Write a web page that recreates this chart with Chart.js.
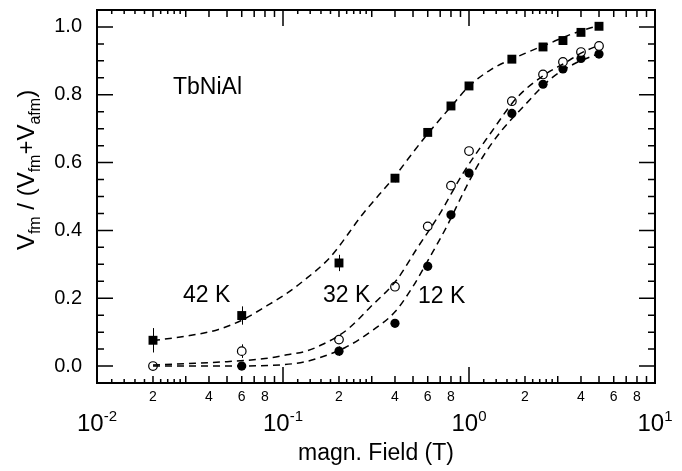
<!DOCTYPE html>
<html>
<head>
<meta charset="utf-8">
<script src="https://cdn.jsdelivr.net/npm/chart.js@4"></script>
<style>
  html, body { margin: 0; padding: 0; background: #fff; }
</style>
</head>
<body>
<canvas id="chart" width="682" height="471"></canvas>
<script>
// measured points (field in T, fm fraction)
const fields = [0.02, 0.06, 0.2, 0.4, 0.6, 0.8, 1.0, 1.7, 2.5, 3.2, 4, 5];
const frac42K = [0.076, 0.149, 0.304, 0.554, 0.689, 0.767, 0.826, 0.905, 0.941, 0.960, 0.984, 1.002];
const err42K = [0.036, 0.027, 0.024, 0.012, 0.006, 0.006, 0.006, 0.005, 0.004, 0.004, 0.004, 0.004];
const frac32K = [0.0, 0.044, 0.078, 0.234, 0.412, 0.532, 0.634, 0.781, 0.860, 0.897, 0.926, 0.944];
const err32K = [0.0, 0.02, 0.012, 0.01, 0.006, 0.005, 0.005, 0.004, 0.004, 0.004, 0.004, 0.004];
const fields12K = [0.06, 0.2, 0.4, 0.6, 0.8, 1.0, 1.7, 2.5, 3.2, 4, 5];
const frac12K = [0.0, 0.044, 0.126, 0.294, 0.446, 0.569, 0.745, 0.831, 0.876, 0.907, 0.920];
const err12K = [0.0, 0.014, 0.006, 0.005, 0.005, 0.004, 0.004, 0.004, 0.004, 0.004, 0.004];

// dashed fit curves
const fitX42K = [0.02, 0.03, 0.045, 0.06, 0.082, 0.1, 0.128, 0.18, 0.27, 0.4, 0.5, 0.6, 0.8, 1.0, 1.3, 2.0, 2.8, 3.6, 5];
const fitY42K = [0.075, 0.088, 0.108, 0.135, 0.178, 0.207, 0.25, 0.322, 0.45, 0.56, 0.63, 0.685, 0.765, 0.825, 0.873, 0.922, 0.955, 0.98, 1.005];
const fitX32K = [0.02, 0.03, 0.05, 0.08, 0.105, 0.135, 0.165, 0.2, 0.23, 0.29, 0.41, 0.52, 0.7, 0.93, 1.3, 1.8, 2.5, 3.3, 4.1, 5];
const fitY32K = [0.003, 0.007, 0.013, 0.022, 0.033, 0.045, 0.065, 0.09, 0.115, 0.17, 0.255, 0.343, 0.451, 0.569, 0.685, 0.79, 0.856, 0.895, 0.926, 0.946];
const fitX12K = [0.02, 0.05, 0.1, 0.13, 0.158, 0.215, 0.29, 0.4, 0.5, 0.62, 0.76, 0.97, 1.19, 1.5, 1.96, 2.72, 3.64, 5];
const fitY12K = [0.0, 0.0, 0.004, 0.012, 0.025, 0.054, 0.098, 0.16, 0.235, 0.324, 0.412, 0.53, 0.618, 0.695, 0.765, 0.845, 0.89, 0.922];

// axis ticks
const xDecades = [0.01, 0.1, 1, 10];
const xDecadeExp = ['-2', '-1', '0', '1'];
const xMinorSteps = [2, 3, 4, 5, 6, 7, 8, 9];
const xFineSteps = [1.2, 1.4, 1.6, 1.8, 2.2, 2.4, 2.6, 2.8];
const xMinorLabels = [2, 4, 6, 8];
const yMajor = [0, 0.2, 0.4, 0.6, 0.8, 1.0];
const yMajorLabels = ['0.0', '0.2', '0.4', '0.6', '0.8', '1.0'];
const yMinor = [0.05, 0.1, 0.15, 0.25, 0.3, 0.35, 0.45, 0.5, 0.55, 0.65, 0.7, 0.75, 0.85, 0.9, 0.95];

const FONT = '"Liberation Sans", Arial, Helvetica, sans-serif';

function toPts(xs, ys) {
    return xs.map((x, i) => ({ x: x, y: ys[i] }));
}

// text made of pieces: 0 normal, 1 subscript, 2 superscript
function richWidth(ctx, parts, size, small) {
    let w = 0;
    parts.forEach(p => {
        ctx.font = (p[1] ? small : size) + 'px ' + FONT;
        w += ctx.measureText(p[0]).width;
    });
    return w;
}

function drawRich(ctx, parts, x, y, size, small, shift) {
    let cx = x;
    parts.forEach(p => {
        ctx.font = (p[1] ? small : size) + 'px ' + FONT;
        let dy = 0;
        if (p[1] === 1) dy = shift;
        if (p[1] === 2) dy = -shift;
        ctx.fillText(p[0], cx, y + dy);
        cx += ctx.measureText(p[0]).width;
    });
}

const errorBars = {
    id: 'errorBars',
    beforeDatasetsDraw(chart) {
        const ctx = chart.ctx;
        const xs = chart.scales.x, ys = chart.scales.y;
        const sets = [[fields, frac42K, err42K], [fields, frac32K, err32K], [fields12K, frac12K, err12K]];
        ctx.save();
        ctx.strokeStyle = '#000';
        ctx.lineWidth = 1;
        sets.forEach(s => {
            s[0].forEach((fx, i) => {
                if (!s[2][i]) return;
                const px = Math.round(xs.getPixelForValue(fx)) + 0.5;
                ctx.beginPath();
                ctx.moveTo(px, ys.getPixelForValue(s[1][i] - s[2][i]));
                ctx.lineTo(px, ys.getPixelForValue(s[1][i] + s[2][i]));
                ctx.stroke();
            });
        });
        ctx.restore();
    }
};

const frameAndText = {
    id: 'frameAndText',
    afterDraw(chart) {
        const ctx = chart.ctx;
        const a = chart.chartArea;
        const xs = chart.scales.x, ys = chart.scales.y;
        ctx.save();
        ctx.strokeStyle = '#000';
        ctx.fillStyle = '#000';

        // ticks, pointing inward on all four sides
        ctx.lineWidth = 1.5;
        function xTick(v, len) {
            const px = xs.getPixelForValue(v);
            ctx.beginPath();
            ctx.moveTo(px, a.bottom); ctx.lineTo(px, a.bottom - len);
            ctx.moveTo(px, a.top); ctx.lineTo(px, a.top + len);
            ctx.stroke();
        }
        function yTick(v, len) {
            const py = ys.getPixelForValue(v);
            ctx.beginPath();
            ctx.moveTo(a.left, py); ctx.lineTo(a.left + len, py);
            ctx.moveTo(a.right, py); ctx.lineTo(a.right - len, py);
            ctx.stroke();
        }
        xDecades.forEach((d, k) => {
            xTick(d, 16);
            if (k === xDecades.length - 1) return;
            xMinorSteps.forEach(m => xTick(d * m, 7));
            xFineSteps.forEach(m => xTick(d * m, 4));
        });
        yMajor.forEach(v => yTick(v, 16));
        yMinor.forEach(v => yTick(v, 7));

        // frame
        ctx.lineWidth = 2;
        ctx.strokeRect(a.left, a.top, a.right - a.left, a.bottom - a.top);

        // y tick labels
        ctx.font = '20px ' + FONT;
        ctx.textAlign = 'right';
        ctx.textBaseline = 'middle';
        yMajor.forEach((v, i) => ctx.fillText(yMajorLabels[i], 82, ys.getPixelForValue(v)));

        // x minor labels
        ctx.font = '14px ' + FONT;
        ctx.textAlign = 'center';
        ctx.textBaseline = 'top';
        xDecades.slice(0, 3).forEach(d => {
            xMinorLabels.forEach(m => ctx.fillText(String(m), xs.getPixelForValue(d * m), 390));
        });

        // x decade labels with exponents
        ctx.textAlign = 'left';
        ctx.textBaseline = 'alphabetic';
        xDecades.forEach((d, i) => {
            const parts = [['10', 0], [xDecadeExp[i], 2]];
            const w = richWidth(ctx, parts, 24, 15);
            drawRich(ctx, parts, xs.getPixelForValue(d) - w / 2, 431, 24, 15, 10);
        });

        // axis titles
        ctx.font = '23px ' + FONT;
        ctx.textAlign = 'center';
        ctx.fillText('magn. Field (T)', (a.left + a.right) / 2, 460);

        ctx.textAlign = 'left';
        const yParts = [['V', 0], ['fm', 1], [' / (', 0], ['V', 0], ['fm', 1], ['+', 0], ['V', 0], ['afm', 1], [')', 0]];
        const yw = richWidth(ctx, yParts, 24, 16);
        ctx.save();
        ctx.translate(34, 170);
        ctx.rotate(-Math.PI / 2);
        drawRich(ctx, yParts, -yw / 2, 0, 24, 16, 6);
        ctx.restore();

        // annotations
        ctx.font = '23px ' + FONT;
        ctx.fillText('TbNiAl', 173, 94);
        ctx.fillText('42 K', 183, 302);
        ctx.fillText('32 K', 323, 302);
        ctx.fillText('12 K', 418, 303);
        ctx.restore();
    }
};

const dashed = { showLine: true, pointRadius: 0, borderColor: '#000', borderWidth: 1.5, borderDash: [7, 5], cubicInterpolationMode: 'monotone', fill: false };

new Chart(document.getElementById('chart'), {
    type: 'scatter',
    data: {
        datasets: [
            Object.assign({ label: 'fit 42 K', data: toPts(fitX42K, fitY42K) }, dashed),
            Object.assign({ label: 'fit 32 K', data: toPts(fitX32K, fitY32K) }, dashed),
            Object.assign({ label: 'fit 12 K', data: toPts(fitX12K, fitY12K) }, dashed),
            { label: '42 K', data: toPts(fields, frac42K), pointStyle: 'rect', pointRadius: 6.3, backgroundColor: '#000', borderColor: '#000', borderWidth: 0 },
            { label: '32 K', data: toPts(fields, frac32K), pointStyle: 'circle', pointRadius: 4.3, backgroundColor: '#fff', borderColor: '#000', borderWidth: 1.2 },
            { label: '12 K', data: toPts(fields12K, frac12K), pointStyle: 'circle', pointRadius: 4.6, backgroundColor: '#000', borderColor: '#000', borderWidth: 0 }
        ]
    },
    options: {
        responsive: false,
        animation: false,
        events: [],
        layout: { padding: { top: 10, right: 27, left: 0, bottom: 0 } },
        plugins: { legend: { display: false }, tooltip: { enabled: false } },
        scales: {
            x: {
                type: 'logarithmic', min: 0.01, max: 10,
                ticks: { display: false }, grid: { display: false }, border: { display: false },
                afterFit: s => { s.height = 88; }
            },
            y: {
                min: -0.05, max: 1.05,
                ticks: { display: false }, grid: { display: false }, border: { display: false },
                afterFit: s => { s.width = 97; }
            }
        }
    },
    plugins: [errorBars, frameAndText]
});
</script>
</body>
</html>
